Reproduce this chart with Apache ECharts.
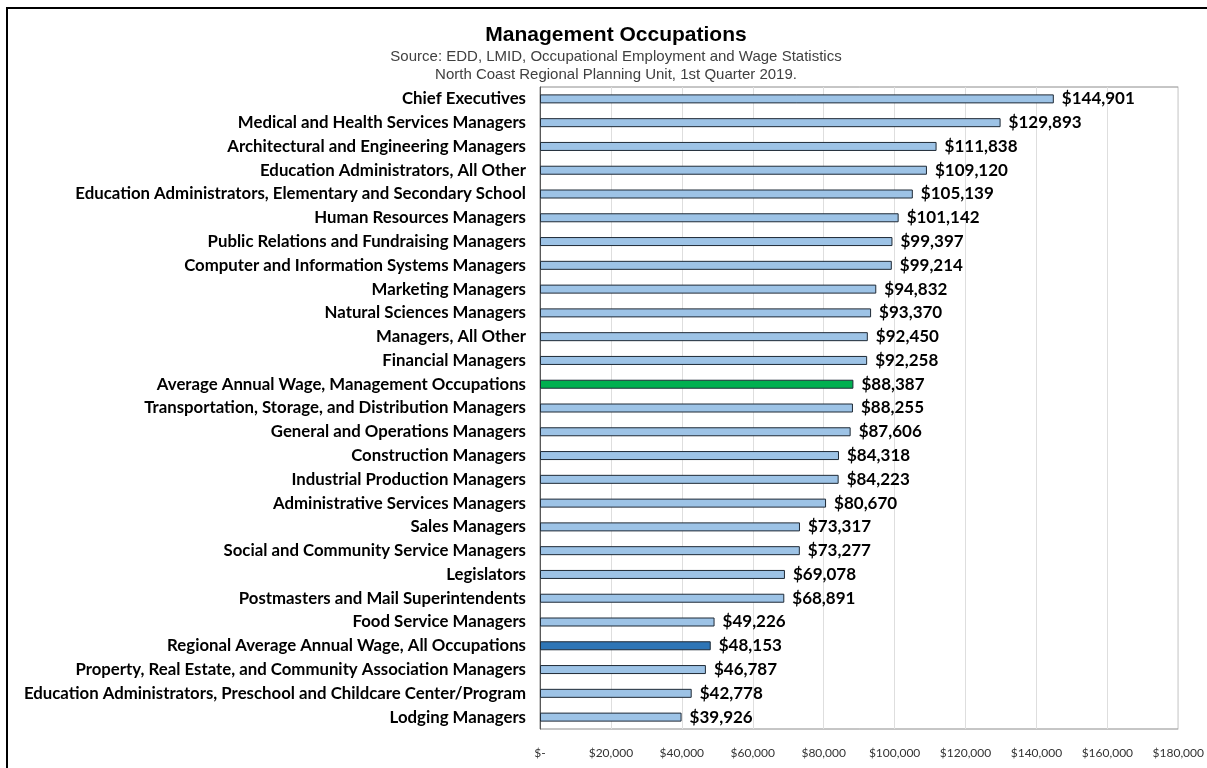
<!DOCTYPE html>
<html>
<head>
<meta charset="utf-8">
<script src="https://cdn.jsdelivr.net/npm/echarts@6/dist/echarts.min.js"></script>
<style>
  html, body { margin: 0; padding: 0; background: #fff; }
  #chart { width: 1207px; height: 768px; }
</style>
</head>
<body>
<div id="chart"></div>
<script>
// occupations, top to bottom as drawn
const categories = [
  'Chief Executives',
  'Medical and Health Services Managers',
  'Architectural and Engineering Managers',
  'Education Administrators, All Other',
  'Education Administrators, Elementary and Secondary School',
  'Human Resources Managers',
  'Public Relations and Fundraising Managers',
  'Computer and Information Systems Managers',
  'Marketing Managers',
  'Natural Sciences Managers',
  'Managers, All Other',
  'Financial Managers',
  'Average Annual Wage, Management Occupations',
  'Transportation, Storage, and Distribution Managers',
  'General and Operations Managers',
  'Construction Managers',
  'Industrial Production Managers',
  'Administrative Services Managers',
  'Sales Managers',
  'Social and Community Service Managers',
  'Legislators',
  'Postmasters and Mail Superintendents',
  'Food Service Managers',
  'Regional Average Annual Wage, All Occupations',
  'Property, Real Estate, and Community Association Managers',
  'Education Administrators, Preschool and Childcare Center/Program',
  'Lodging Managers'
]

const wages = [
  144901, 129893, 111838, 109120, 105139, 101142, 99397, 99214, 94832,
  93370, 92450, 92258, 88387, 88255, 87606, 84318, 84223, 80670, 73317,
  73277, 69078, 68891, 49226, 48153, 46787, 42778, 39926
]

const highlights = {
  'Average Annual Wage, Management Occupations': '#00b050',
  'Regional Average Annual Wage, All Occupations': '#2e75b6'
}

const fmt = v => v === 0 ? '$-' : '$' + v.toLocaleString('en-US')

const chart = echarts.init(document.getElementById('chart'))

chart.setOption({
  animation: false,
  title: {
    text: 'Management Occupations',
    subtext: 'Source: EDD, LMID, Occupational Employment and Wage Statistics\nNorth Coast Regional Planning Unit, 1st Quarter 2019.',
    left: 611,
    textAlign: 'center',
    top: 20,
    itemGap: 2,
    textStyle: { fontFamily: 'Liberation Sans', fontWeight: 'bold', fontSize: 21, color: '#000' },
    subtextStyle: { fontFamily: 'Liberation Sans', fontSize: 15, color: '#404040', lineHeight: 18 }
  },
  graphic: [{
    type: 'rect',
    shape: { x: 7, y: 8, width: 1230, height: 800 },
    style: { fill: 'none', stroke: '#000', lineWidth: 2 },
    silent: true
  }],
  grid: {
    left: 540, right: 27, top: 87, bottom: 39,
    show: true, borderColor: '#8c8c8c', borderWidth: 1,
    containLabel: false
  },
  xAxis: {
    type: 'value',
    min: 0, max: 180000, interval: 20000,
    axisLine: { show: false },
    axisTick: { show: false },
    splitLine: { lineStyle: { color: '#dedede' } },
    axisLabel: {
      formatter: fmt,
      fontFamily: 'Liberation Sans Narrow, Lato',
      fontSize: 12, color: '#333', margin: 18
    }
  },
  yAxis: {
    type: 'category',
    data: categories,
    inverse: true,
    axisLine: { lineStyle: { color: '#595959' } },
    axisTick: { show: false },
    axisLabel: {
      fontFamily: 'Lato', fontWeight: 'bold', fontSize: 16.8, color: '#000', margin: 14
    }
  },
  series: [{
    type: 'bar',
    barWidth: 9,
    data: wages.map((v, i) => ({
      value: v,
      itemStyle: { color: highlights[categories[i]] || '#9dc3e6' }
    })),
    itemStyle: { borderColor: '#1f2a36', borderWidth: 1 },
    label: {
      show: true, position: 'right', distance: 8,
      formatter: p => fmt(p.value),
      fontFamily: 'Lato', fontWeight: 'bold', fontSize: 17, color: '#000'
    }
  }]
})
</script>
</body>
</html>
